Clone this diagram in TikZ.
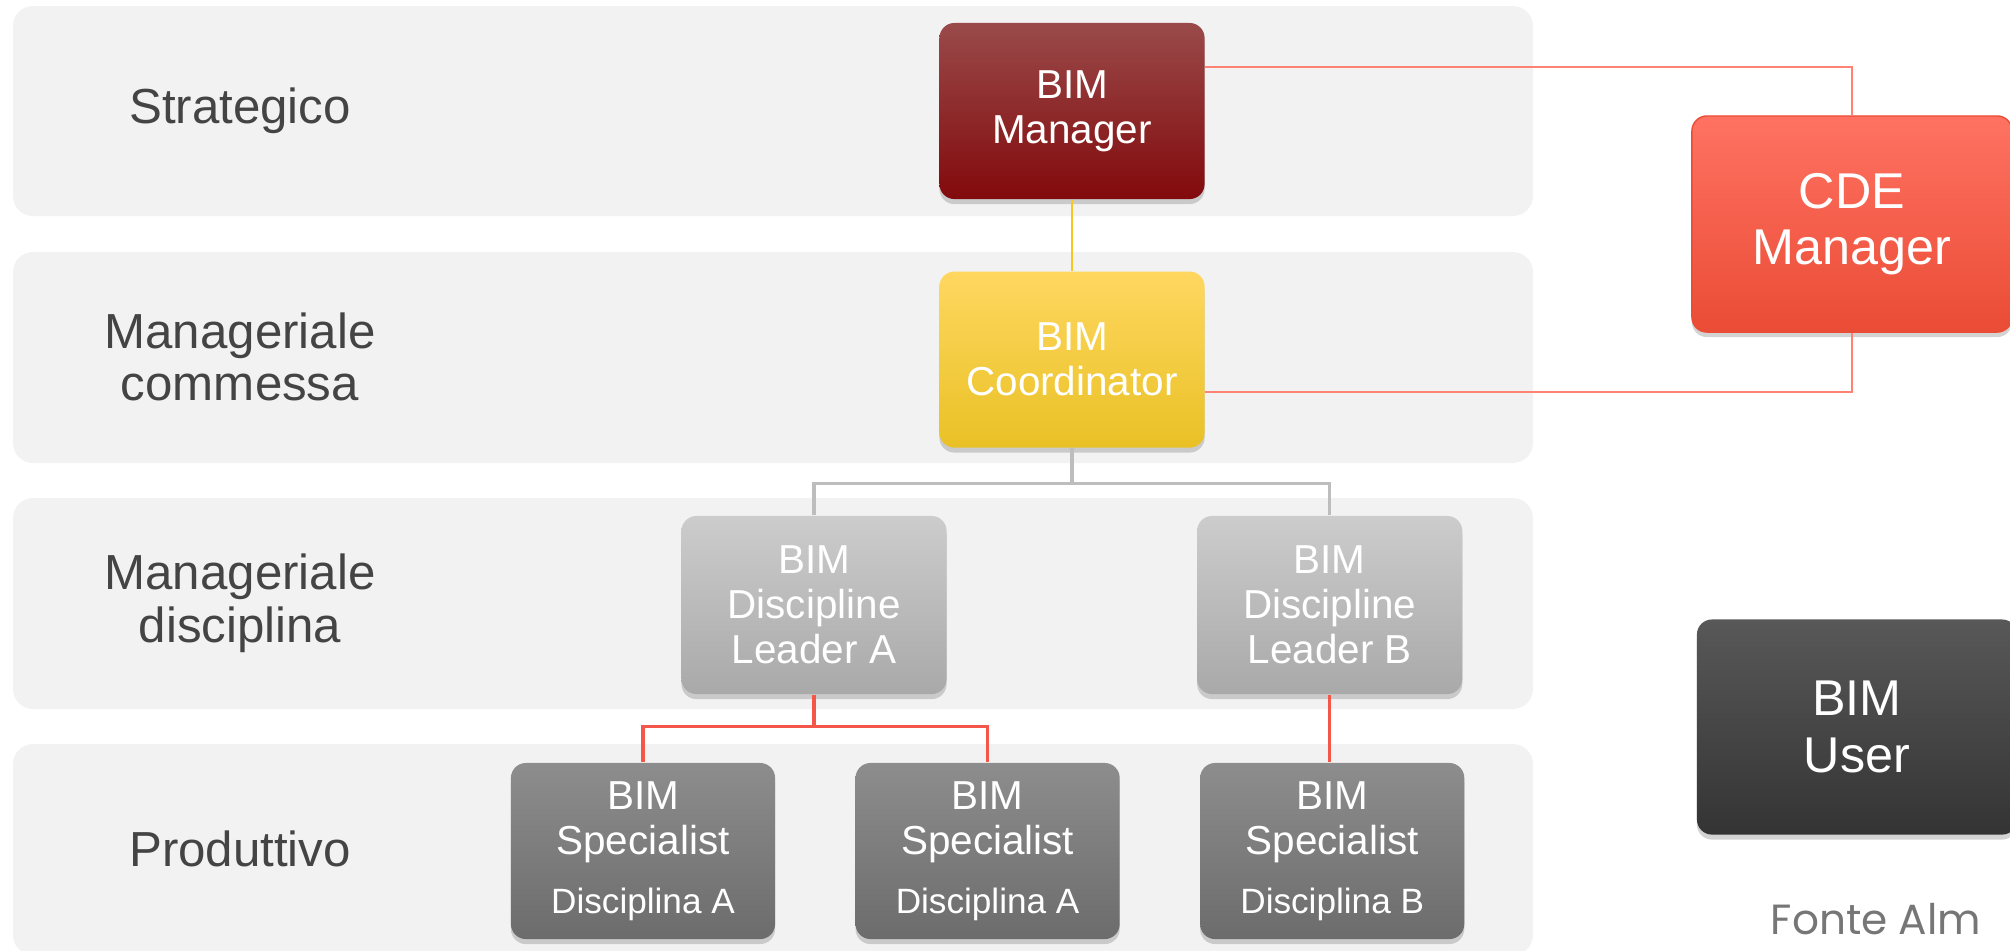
\documentclass[tikz,border=0pt]{standalone}
\usepackage{fontspec}
\setmainfont{Liberation Sans}
\newfontfamily\fontefont{Poppins}
\usetikzlibrary{positioning}
\usetikzlibrary{shadows}

\definecolor{bandgray}{HTML}{F2F2F2}
\definecolor{labelgray}{HTML}{444444}
\definecolor{fontegray}{HTML}{767676}
\definecolor{mantop}{HTML}{9A4A4A}
\definecolor{manbot}{HTML}{820A0C}
\definecolor{coordtop}{HTML}{FFD760}
\definecolor{coordbot}{HTML}{E9C125}
\definecolor{leadtop}{HTML}{CCCCCC}
\definecolor{leadbot}{HTML}{A9A9A9}
\definecolor{spectop}{HTML}{8D8D8D}
\definecolor{specbot}{HTML}{6C6C6C}
\definecolor{cdetop}{HTML}{FF7262}
\definecolor{cdebot}{HTML}{EA4C35}
\definecolor{usertop}{HTML}{585858}
\definecolor{userbot}{HTML}{343434}
\definecolor{linkyellow}{HTML}{F5C71F}
\definecolor{linkgray}{HTML}{BDBDBD}
\definecolor{linkred}{HTML}{F4574A}
\definecolor{linksalmon}{HTML}{FF8272}

\tikzset{
    box/.style={rectangle, rounded corners=0.15cm, minimum width=2.65cm,
        minimum height=1.76cm, inner sep=0pt, align=center, text=white,
        font=\fontsize{11.5}{12.8}\selectfont,
        drop shadow={shadow xshift=0pt, shadow yshift=-0.05cm, opacity=0.35}},
    bigbox/.style={box, minimum width=3.2cm, minimum height=2.16cm,
        font=\fontsize{14.3}{16}\selectfont},
    level/.style={align=center, text=labelgray, font=\fontsize{14}{15}\selectfont},
}

\begin{document}
\begin{tikzpicture}[x=0.01cm, y=-0.01cm]
        \useasboundingbox (0,0) rectangle (2010,950);

        \fill[bandgray, rounded corners=0.2cm] (13,6) rectangle (1533,216);
        \fill[bandgray, rounded corners=0.2cm] (13,252) rectangle (1533,463);
        \fill[bandgray, rounded corners=0.2cm] (13,498) rectangle (1533,709);
        \fill[bandgray, rounded corners=0.2cm] (13,744) rectangle (1533,955);

        \node[level] (lv1) at (240,111) {Strategico};
        \node[level] (lv2) at (240,357) {Manageriale\\commessa};
        \node[level] (lv3) at (240,603) {Manageriale\\disciplina};
        \node[level] (lv4) at (240,849) {Produttivo};

        \node[box, top color=mantop, bottom color=manbot] (man) at (1072,111) {BIM\\Manager};
        \node[box, top color=coordtop, bottom color=coordbot] (coord) [below=0.71cm of man] {BIM\\Coordinator};

        \node[box, minimum height=1.78cm, top color=leadtop, bottom color=leadbot] (LA) at (814,605) {BIM\\Discipline\\Leader A};
        \node[box, minimum height=1.78cm, top color=leadtop, bottom color=leadbot] (LB) [right=2.49cm of LA] {BIM\\Discipline\\Leader B};

        \node[box, minimum width=2.64cm, top color=spectop, bottom color=specbot] (S1) at (643,851) {BIM\\Specialist\\[4pt]{\fontsize{10}{12}\selectfont Disciplina A}};
        \node[box, minimum width=2.64cm, top color=spectop, bottom color=specbot] (S2) [right=0.79cm of S1] {BIM\\Specialist\\[4pt]{\fontsize{10}{12}\selectfont Disciplina A}};
        \node[box, minimum width=2.64cm, top color=spectop, bottom color=specbot] (S3) [right=0.79cm of S2] {BIM\\Specialist\\[4pt]{\fontsize{10}{12}\selectfont Disciplina B}};

        \node[bigbox, draw=cdebot, line width=0.4pt, top color=cdetop, bottom color=cdebot] (cde) at (1852,224) {CDE\\Manager};
        \node[bigbox, minimum height=2.15cm, top color=usertop, bottom color=userbot] (user) at (1857,727) {BIM\\User};

        \node[anchor=base west, inner sep=0pt, text=fontegray, font=\fontefont\fontsize{12}{15}\selectfont] (fonte) at (1770,934) {Fonte Alm};

        \coordinate (cdeA) at (1852,67);
        \coordinate (cdeB) at (1852,392);

        \begin{scope}[linksalmon, line width=0.7pt]
            \draw (man.east |- cdeA) -- (cdeA) -- (cde.north);
            \draw (cde.south) -- (cdeB) -- (coord.east |- cdeB);
        \end{scope}

        \draw[linkyellow, line width=0.8pt] (man) -- (coord);

        \begin{scope}[linkgray, line width=0.9pt]
            \draw (coord.south) -- ++(0,35) -| (LA.north);
            \draw (coord.south) -- ++(0,35) -| (LB.north);
        \end{scope}

        \begin{scope}[linkred, line width=0.9pt]
            \draw (LA.south) -- ++(0,32) -| (S1.north);
            \draw (LA.south) -- ++(0,32) -| (S2.north);
            \draw (LB.south) -- (LB.south |- S3.north);
        \end{scope}

    \end{tikzpicture}
\end{document}
